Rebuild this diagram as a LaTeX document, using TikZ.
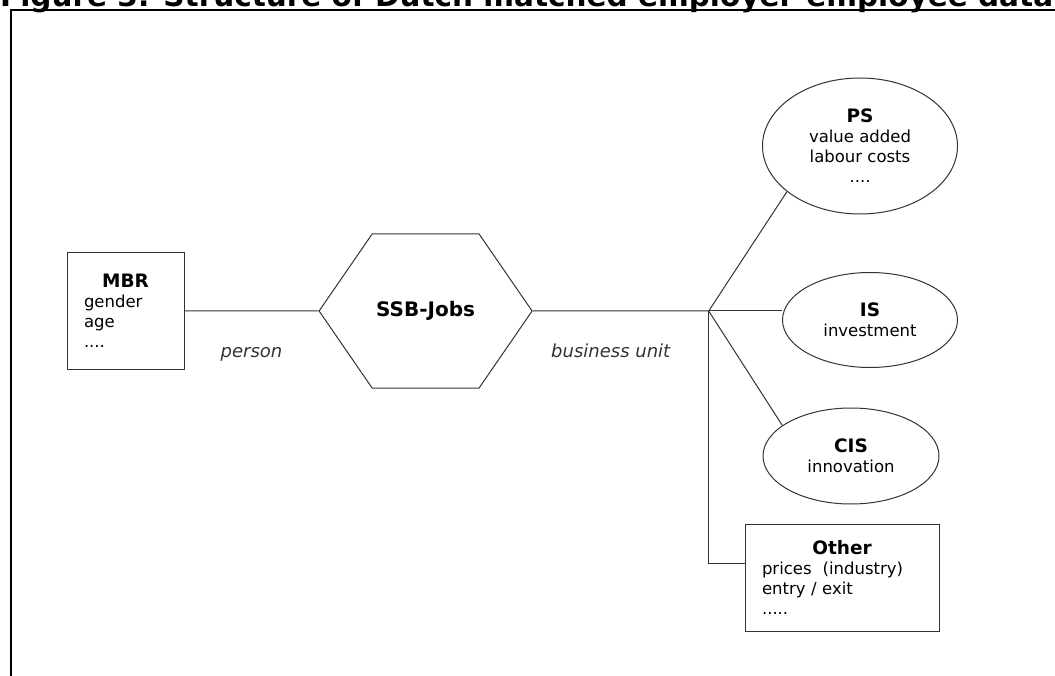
\documentclass[tikz,border=0pt]{standalone}
\usepackage{fontspec}
\setmainfont{DejaVu Sans}
\usetikzlibrary{positioning,shapes.geometric,shapes.symbols}

\newcommand\boxhead[1]{\hfill{\bfseries\fontsize{18.5}{20}\selectfont #1}\hfill\null}

\begin{document}
\begin{tikzpicture}[
    x=1pt, y=-1pt,
    record/.style={draw=black!80, line width=1pt, rectangle, align=left, inner sep=0pt, font=\fontsize{16.5}{20}\selectfont},
    oval/.style={draw=black!80, line width=1pt, ellipse, align=center, inner sep=0pt, font=\fontsize{16.5}{20}\selectfont},
    hexa/.style={draw=black!80, line width=1pt, signal, signal to=west and east, signal pointer angle=110.9, minimum width=213pt, minimum height=154pt, inner sep=0pt, font=\bfseries\fontsize{20}{24}\selectfont},
    link/.style={black!80, line width=1pt},
    lbl/.style={midway, anchor=base, yshift=-46pt, inner sep=0pt, font=\itshape\fontsize{18}{20}\selectfont},
    frame/.style={line width=2pt}
]
    \useasboundingbox (0,0) rectangle (1055,676);
    \clip (0,0) rectangle (1055,676);

    % caption and frame
    \node[anchor=base west, inner sep=0pt, font=\bfseries\fontsize{29.5}{31}\selectfont] (title) at (0,7) {Figure 3: Structure of Dutch matched employer-employee data};
    \draw[frame] (1060,10) -| (11,680);

    % main chain
    \node[record, minimum width=117pt, minimum height=116pt, text width=83pt] (mbr) at (125.5,311) {\boxhead{MBR}\\gender\\age\\....};
    \node[hexa, right=134pt of mbr] (jobs) {SSB-Jobs};
    \coordinate[right=176pt of jobs] (hub);

    % sources per business unit
    \node[oval, minimum width=195pt, minimum height=136pt] (ps) at (860,146) {{\bfseries\fontsize{18.5}{20}\selectfont PS}\\value added\\labour costs\\....};
    \node[oval, minimum width=175pt, minimum height=95pt] (is) at (870,320) {{\bfseries\fontsize{18.5}{20}\selectfont IS}\\investment};
    \node[oval, minimum width=176pt, minimum height=96pt] (cis) at (851,456) {{\bfseries\fontsize{18.5}{20}\selectfont CIS}\\innovation};
    \node[record, minimum width=194pt, minimum height=107pt, text width=160pt] (other) at (842,577.5) {\boxhead{Other}\\prices\ \ (industry)\\entry / exit\\.....};

    \draw[link] (mbr) -- node[lbl] (person) {person} (jobs);
    \draw[link] (jobs) -- node[lbl, xshift=-10pt] (unit) {business unit} (hub);
    \draw[link] (hub) -- (ps.212);
    \draw[link] (hub) -- (hub -| is.west);
    \draw[link] (hub) -- (cis.156);
    \draw[link] (hub) |- ([yshift=14pt]other.west);
\end{tikzpicture}
\end{document}
